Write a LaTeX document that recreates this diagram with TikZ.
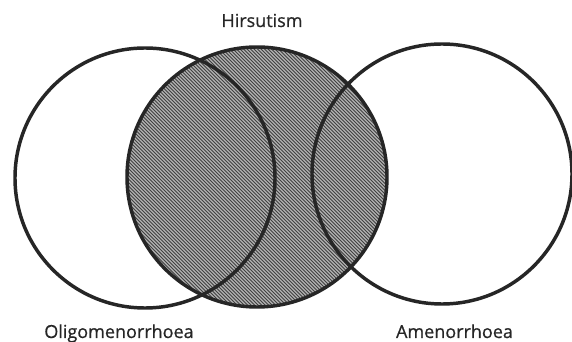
\documentclass[tikz,border=0pt]{standalone}
\usepackage{fontspec}
\setmainfont{Open Sans}
\newfontfamily\lblfont[FakeBold=0.6]{Open Sans}
\usetikzlibrary{calc}
\begin{document}
\begin{tikzpicture}[x=0.75pt,y=-0.75pt,
  ring/.style={circle,draw=black!85,line width=2.6pt,minimum size=195pt,inner sep=0pt},
  hatchline/.style={draw=black!75,line width=0.55pt},
  label/.style={anchor=base,text=black!85,font=\lblfont\fontsize{13.5}{16}\selectfont}]
\useasboundingbox (0,0) rectangle (572,342);
\fill[white] (0,0) rectangle (572,342);
% hatched middle circle (Hirsutism)
\node[ring,draw=none,fill=black!30,
  path picture={
    \foreach \i in {-400,-396.5,...,400}
      \draw[hatchline] ($(path picture bounding box.center)+(\i-150,-150)$) -- ++(300,300);
  }] (midfill) at (257,177) {};
% outlines
\node[ring] (left) at (145,178) {};
\node[ring] (right) at (442,174) {};
\node[ring] (mid) at (257,177) {};
% labels
\node[label] (hirs) at (262,27) {Hirsutism};
\node[label] (oligo) at (119,338) {Oligomenorrhoea};
\node[label] (amen) at (454.5,338) {Amenorrhoea};
\end{tikzpicture}
\end{document}
